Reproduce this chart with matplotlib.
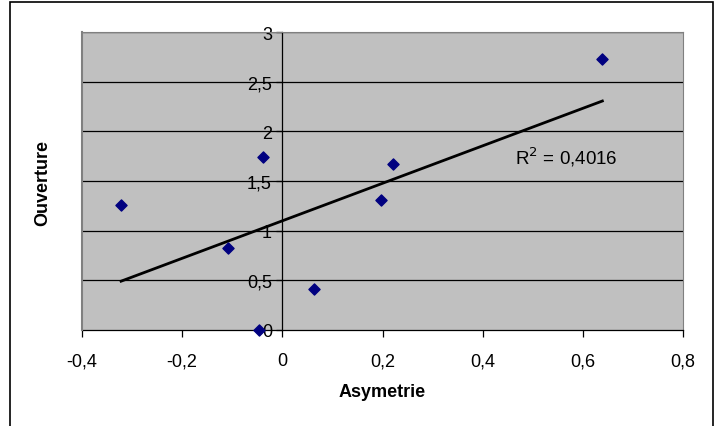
import numpy as np
import matplotlib
matplotlib.use('Agg')
import matplotlib.pyplot as plt
from matplotlib.patches import Rectangle
from matplotlib.ticker import FuncFormatter

plt.rcParams['font.family'] = ['Liberation Sans', 'DejaVu Sans']

# data
asymetrie = [-0.322, -0.108, -0.039, -0.046, 0.064, 0.198, 0.221, 0.639]
ouverture = [1.257, 0.821, 1.746, 0.0, 0.409, 1.304, 1.673, 2.729]
r2_label = 'R$^2$ = 0,4016'

x = np.array(asymetrie)
y = np.array(ouverture)
slope, intercept = np.polyfit(x, y, 1)

fig = plt.figure(figsize=(7.21, 4.27), dpi=100)
ax = fig.add_axes([82/721, 1-331/427, 601/721, 298/427])
ax.set_facecolor('#C0C0C0')

# outer chart frame
fig.patches.append(Rectangle((10/721, -0.05), 703/721, 1.05 - 3/427, transform=fig.transFigure,
                             fill=False, edgecolor='black', lw=1.2))

ax.set_xlim(-0.4, 0.8)
ax.set_ylim(0, 3)
ax.set_yticks(np.arange(0, 3.01, 0.5))
ax.set_xticks(np.arange(-0.4, 0.81, 0.2))
for yy in np.arange(0.5, 3.01, 0.5):
    ax.axhline(yy, color='black', lw=0.9, zorder=1)

fmt = FuncFormatter(lambda v, p: ('%g' % round(v, 2)).replace('.', ','))
ax.xaxis.set_major_formatter(fmt)
ax.yaxis.set_major_formatter(fmt)

ax.spines['left'].set_position(('data', 0))
ax.spines['left'].set_color('black')
ax.spines['left'].set_linewidth(0.9)
ax.spines['bottom'].set_color('black')
ax.spines['bottom'].set_linewidth(0.9)
for s in ['top', 'right']:
    ax.spines[s].set_color('#808080')
ax.plot([-0.4, -0.4], [0, 3], color='#808080', lw=1.5, clip_on=False, zorder=3)

ax.tick_params(axis='y', direction='out', length=4.5, width=0.9, pad=3, labelsize=13)
ax.tick_params(axis='x', direction='out', length=5, width=0.9, pad=11, labelsize=13)

ax.scatter(x, y, marker='D', s=32, color='#000080', zorder=5, clip_on=False)
xl = np.array([x.min(), x.max()])
ax.plot(xl, slope*xl + intercept, color='black', lw=2, zorder=4)
ax.text(0.465, 1.75, r2_label, fontsize=13.5, color='black', va='center')

fig.text(382/721, 1-393/427, 'Asymetrie', fontsize=13, fontweight='bold',
         ha='center', va='center')
fig.text(43/721, 1-183/427, 'Ouverture', rotation=90, fontsize=13, fontweight='bold',
         ha='center', va='center')

fig.savefig('out.png', dpi=100)
